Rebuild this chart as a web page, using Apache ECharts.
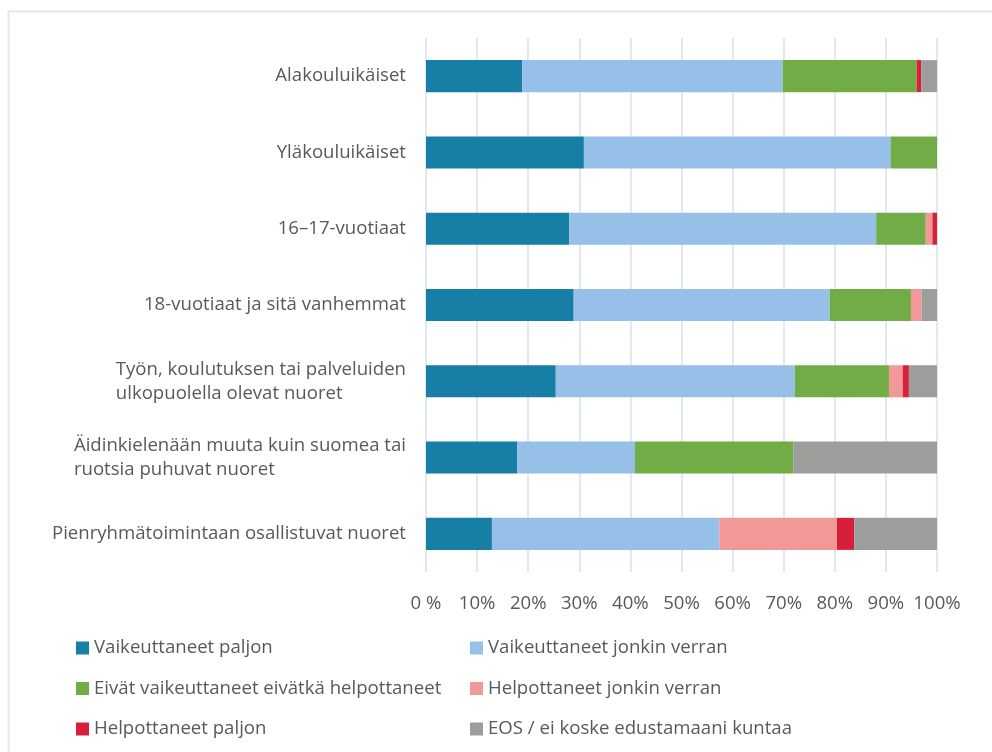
<!DOCTYPE html>
<html>
<head>
<meta charset="utf-8">
<script src="https://cdn.jsdelivr.net/npm/echarts@6/dist/echarts.min.js"></script>
<style>
  html, body { margin: 0; padding: 0; background: #fff; }
  #chart { width: 992px; height: 752px; }
</style>
</head>
<body>
<div id="chart"></div>
<script>
// --- Data ---
const categories = [
  'Alakouluikäiset',
  'Yläkouluikäiset',
  '16–17-vuotiaat',
  '18-vuotiaat ja sitä vanhemmat',
  'Työn, koulutuksen tai palveluiden\nulkopuolella olevat nuoret',
  'Äidinkielenään muuta kuin suomea tai\nruotsia puhuvat nuoret',
  'Pienryhmätoimintaan osallistuvat nuoret'
]
const seriesNames = [
  'Vaikeuttaneet paljon',
  'Vaikeuttaneet jonkin verran',
  'Eivät vaikeuttaneet eivätkä helpottaneet',
  'Helpottaneet jonkin verran',
  'Helpottaneet paljon',
  'EOS / ei koske edustamaani kuntaa'
]
const vaikPaljon   = [18.8, 30.9, 28.0, 28.9, 25.4, 17.9, 12.9]
const vaikJonkin   = [51.0, 60.0, 60.1, 50.1, 46.8, 23.0, 44.5]
const eivat        = [26.2, 9.1, 9.7, 15.9, 18.4, 31.0, 0]
const helpJonkin   = [0, 0, 1.3, 2.1, 2.7, 0, 23.0]
const helpPaljon   = [0.9, 0, 0.9, 0, 1.2, 0, 3.4]
const eos          = [3.1, 0, 0, 3.0, 5.5, 28.1, 16.2]
const tickValues   = [0, 10, 20, 30, 40, 50, 60, 70, 80, 90, 100]

const colors = ['#177ea5', '#97c0e8', '#72ac47', '#f39898', '#d6203a', '#9d9d9c']
const values = [vaikPaljon, vaikJonkin, eivat, helpJonkin, helpPaljon, eos]

const font = 'Open Sans'
const textColor = '#595959'
const fs = 18.6

const chart = echarts.init(document.getElementById('chart'))

// 图例：两列，每列三项
const legendStyle = {
  orient: 'vertical',
  top: 638,
  padding: 0,
  itemWidth: 13,
  itemHeight: 13,
  itemGap: 20.5,
  icon: 'rect',
  textStyle: { color: textColor, fontFamily: font, fontSize: fs, lineHeight: 20 }
}

const option = {
  animation: false,
  backgroundColor: '#fff',
  graphic: [
    {
      type: 'rect',
      shape: { x: 8.5, y: 11.5, width: 1000, height: 800 },
      style: { fill: 'none', stroke: '#e3e7ec', lineWidth: 2 },
      silent: true
    }
  ],
  grid: { left: 426, right: 55, top: 38, bottom: 180 },
  xAxis: {
    type: 'value',
    min: 0,
    max: 100,
    interval: 10,
    axisLine: { show: false },
    axisTick: { show: false },
    splitLine: { lineStyle: { color: '#e3e8ef', width: 2 } },
    axisLabel: {
      margin: 22,
      color: textColor,
      fontFamily: font,
      fontSize: fs,
      formatter: v => (tickValues.indexOf(v) === 0 ? '0 %' : v + '%')
    }
  },
  yAxis: {
    type: 'category',
    inverse: true,
    data: categories,
    axisLine: { show: false },
    axisTick: { show: false },
    axisLabel: {
      margin: 20,
      color: textColor,
      fontFamily: font,
      fontSize: fs,
      lineHeight: 24,
      formatter: v => v.split('\n').map(s => '{a|' + s + '}').join('\n'),
      rich: {
        a: { align: 'left', color: textColor, fontFamily: font, fontSize: fs, lineHeight: 24 }
      }
    }
  },
  legend: [
    Object.assign({}, legendStyle, { left: 76, data: [seriesNames[0], seriesNames[2], seriesNames[4]] }),
    Object.assign({}, legendStyle, { left: 470, data: [seriesNames[1], seriesNames[3], seriesNames[5]] })
  ],
  series: seriesNames.map((name, i) => ({
    name,
    type: 'bar',
    stack: 'total',
    barWidth: '42%',
    data: values[i],
    itemStyle: { color: colors[i] }
  }))
}

chart.setOption(option)
</script>
</body>
</html>
